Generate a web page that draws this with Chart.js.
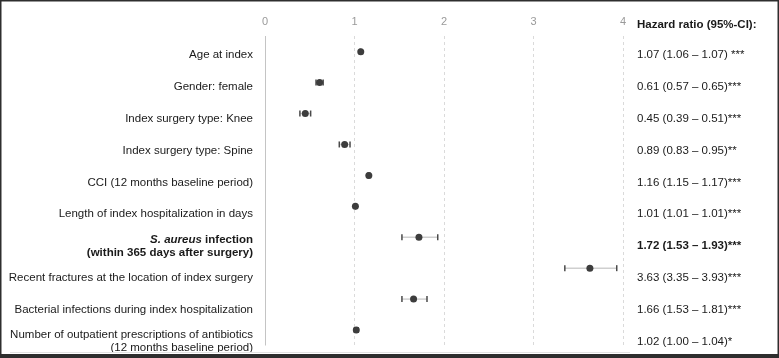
<!DOCTYPE html>
<html>
<head>
<meta charset="utf-8">
<style>
  html, body { margin: 0; padding: 0; background: #fff; }
  #wrap { width: 779px; height: 358px; }
</style>
<script src="https://cdn.jsdelivr.net/npm/chart.js@4"></script>
</head>
<body>
<div id="wrap"><canvas id="forest" width="779" height="358"></canvas></div>
<script>
'use strict';

// Row labels (left column); arrays mean two lines
const rowLabels = [
  'Age at index',
  'Gender: female',
  'Index surgery type: Knee',
  'Index surgery type: Spine',
  'CCI (12 months baseline period)',
  'Length of index hospitalization in days',
  ['S. aureus infection', '(within 365 days after surgery)'],
  'Recent fractures at the location of index surgery',
  'Bacterial infections during index hospitalization',
  ['Number of outpatient prescriptions of antibiotics', '(12 months baseline period)'],
];

// Hazard ratios and 95% CI bounds
const hazardRatio = [1.07, 0.61, 0.45, 0.89, 1.16, 1.01, 1.72, 3.63, 1.66, 1.02];
const ciLower = [1.06, 0.57, 0.39, 0.83, 1.15, 1.01, 1.53, 3.35, 1.53, 1.00];
const ciUpper = [1.07, 0.65, 0.51, 0.95, 1.17, 1.01, 1.93, 3.93, 1.81, 1.04];

// Significance markers, as printed in the right column
const significance = [' ***', '***', '***', '**', '***', '***', '***', '***', '***', '*'];

// Row that is highlighted in bold
const highlightRow = 6;

// x axis ticks
const xTicks = [0, 1, 2, 3, 4];

const FONT = "'Liberation Sans', Arial, Helvetica, sans-serif";
const rowKeys = rowLabels.map((_, i) => 'r' + i);

function fmt(v) {
  return v.toFixed(2);
}

// Right column text built from the data arrays
const hrText = hazardRatio.map((v, i) =>
  fmt(v) + ' (' + fmt(ciLower[i]) + ' \u2013 ' + fmt(ciUpper[i]) + ')' + significance[i]);

/**
 * Draws CI whiskers (light line + dark caps) under the points
 */
const whiskerPlugin = {
  id: 'whiskers',
  beforeDatasetsDraw(chart) {
    const { ctx, scales: { x, y } } = chart;
    ctx.save();
    rowKeys.forEach((key, i) => {
      const py = y.getPixelForValue(i);
      const x0 = x.getPixelForValue(ciLower[i]);
      const x1 = x.getPixelForValue(ciUpper[i]);
      ctx.strokeStyle = '#cfcfcf';
      ctx.lineWidth = 1.5;
      ctx.beginPath();
      ctx.moveTo(x0, py);
      ctx.lineTo(x1, py);
      ctx.stroke();
      ctx.strokeStyle = '#4a4a4a';
      ctx.lineWidth = 1.5;
      [x0, x1].forEach((cx) => {
        ctx.beginPath();
        ctx.moveTo(cx, py - 3);
        ctx.lineTo(cx, py + 3);
        ctx.stroke();
      });
    });
    ctx.restore();
  },
};

/**
 * Draws the row labels, the HR column, the frame
 */
const tablePlugin = {
  id: 'table',
  beforeDraw(chart) {
    const { ctx, width, height } = chart;
    ctx.save();
    ctx.fillStyle = '#fff';
    ctx.fillRect(0, 0, width, height);
    ctx.restore();
  },
  afterDraw(chart) {
    const { ctx, width, height } = chart;
    const textTop = 55;
    const textStep = 31.85;
    const lineH = 13;
    const leftX = 253;
    const rightX = 637;

    ctx.save();
    ctx.textBaseline = 'middle';
    ctx.fillStyle = '#1a1a1a';

    // left labels
    rowLabels.forEach((label, i) => {
      const cy = textTop + textStep * i;
      const lines = Array.isArray(label) ? label : [label];
      const bold = i === highlightRow;
      lines.forEach((line, j) => {
        const ly = cy + (j - (lines.length - 1) / 2) * lineH;
        if (bold && j === 0 && line.startsWith('S. aureus')) {
          const head = 'S. aureus';
          const tail = line.slice(head.length);
          ctx.font = 'bold italic 11.5px ' + FONT;
          const w1 = ctx.measureText(head).width;
          ctx.font = 'bold 11.5px ' + FONT;
          const w2 = ctx.measureText(tail).width;
          ctx.textAlign = 'left';
          ctx.font = 'bold italic 11.5px ' + FONT;
          ctx.fillText(head, leftX - w1 - w2, ly);
          ctx.font = 'bold 11.5px ' + FONT;
          ctx.fillText(tail, leftX - w2, ly);
        } else {
          ctx.textAlign = 'right';
          ctx.font = (bold ? 'bold ' : '') + '11.5px ' + FONT;
          ctx.fillText(line, leftX, ly);
        }
      });
    });

    // right column
    ctx.textAlign = 'left';
    ctx.font = 'bold 11.5px ' + FONT;
    ctx.fillText('Hazard ratio (95%-CI):', rightX, 25);
    hrText.forEach((t, i) => {
      ctx.font = (i === highlightRow ? 'bold ' : '') + '11.5px ' + FONT;
      ctx.fillText(t, rightX, textTop + textStep * i);
    });

    // bottom rule and frame
    ctx.strokeStyle = '#e2e2e2';
    ctx.lineWidth = 1;
    ctx.beginPath();
    ctx.moveTo(10, 352.5);
    ctx.lineTo(630, 352.5);
    ctx.stroke();

    ctx.strokeStyle = '#2e2e2e';
    ctx.lineWidth = 1.5;
    ctx.strokeRect(0.75, 0.75, width - 1.5, height - 1.5);
    ctx.fillStyle = '#2e2e2e';
    ctx.fillRect(0, height - 4, width, 4);
    ctx.restore();
  },
};

const chartConfig = {
  type: 'scatter',
  data: {
    datasets: [
      {
        data: hazardRatio.map((v, i) => ({ x: v, y: rowKeys[i] })),
        pointRadius: 3.5,
        pointHoverRadius: 3.5,
        pointBackgroundColor: '#3d3d3d',
        pointBorderColor: '#3d3d3d',
        pointBorderWidth: 0,
      },
    ],
  },
  options: {
    responsive: false,
    animation: false,
    events: [],
    layout: {
      padding: { left: 265, right: 156, top: 7, bottom: 12.5 },
    },
    plugins: {
      legend: { display: false },
      tooltip: { enabled: false },
    },
    scales: {
      x: {
        type: 'linear',
        position: 'top',
        min: xTicks[0],
        max: xTicks[xTicks.length - 1],
        afterBuildTicks: (scale) => {
          scale.ticks = xTicks.map((v) => ({ value: v }));
        },
        ticks: {
          color: '#9a9a9a',
          font: { family: FONT, size: 11 },
          padding: 8,
        },
        grid: {
          drawTicks: false,
          lineWidth: 1,
          color: (ctx) => (ctx.tick && ctx.tick.value === 0 ? '#c4c4c4' : '#dadada'),
        },
        border: {
          display: false,
          dash: (ctx) => (ctx.tick && ctx.tick.value === 0 ? [] : [3, 3]),
        },
      },
      y: {
        type: 'category',
        labels: rowKeys,
        offset: true,
        display: false,
      },
    },
  },
  plugins: [whiskerPlugin, tablePlugin],
};

new Chart(document.getElementById('forest'), chartConfig);
</script>
</body>
</html>
